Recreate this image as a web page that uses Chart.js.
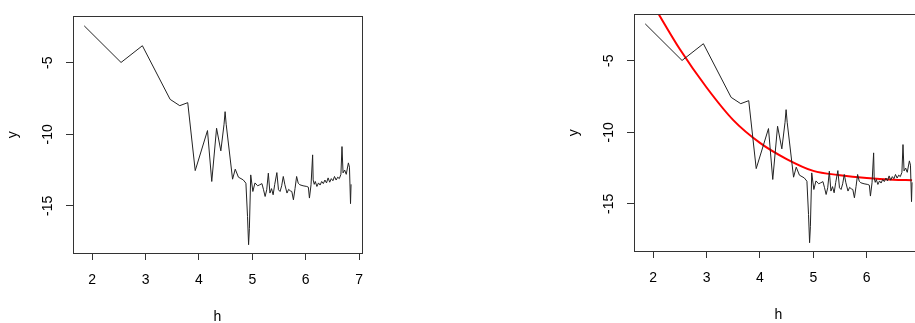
<!DOCTYPE html>
<html>
<head>
<meta charset="utf-8">
<script src="https://cdn.jsdelivr.net/npm/chart.js@4"></script>
<style>
  html, body { margin: 0; padding: 0; background: #fff; overflow: hidden; }
  body { width: 915px; height: 323px; position: relative; }
  .panel { position: absolute; width: 380px; height: 323px; }
  #leftPanel { left: 0; top: 0; }
  #rightPanel { left: 561px; top: -2px; }
</style>
</head>
<body>
<div class="panel" id="leftPanel"><canvas id="leftChart"></canvas></div>
<div class="panel" id="rightPanel"><canvas id="rightChart"></canvas></div>
<script>
// observed series (h, y)
const hValues = [1.85, 2.54, 2.94, 3.46, 3.64, 3.79, 3.93, 4.16, 4.24, 4.33, 4.41, 4.47, 4.49, 4.51,
  4.63, 4.68, 4.74, 4.83, 4.88, 4.91, 4.93, 4.945, 4.97, 5.01, 5.05, 5.10, 5.14, 5.18, 5.21, 5.24,
  5.27, 5.30, 5.33, 5.36, 5.39, 5.42, 5.46, 5.49, 5.52, 5.55, 5.58, 5.61, 5.65, 5.68, 5.71, 5.74,
  5.77, 5.80, 5.83, 5.86, 5.89, 5.95, 6.02, 6.05, 6.07, 6.10, 6.13, 6.14, 6.16, 6.18, 6.21, 6.24,
  6.27, 6.30, 6.33, 6.36, 6.39, 6.42, 6.45, 6.48, 6.51, 6.54, 6.57, 6.60, 6.63, 6.66, 6.68, 6.70,
  6.73, 6.76, 6.80, 6.82, 6.84, 6.85];
const yValues = [-2.42, -4.98, -3.81, -7.56, -8.0, -7.79, -12.54, -9.74, -13.3, -9.58, -11.16, -9.3, -8.42, -9.3,
  -13.14, -12.44, -13.0, -13.19, -13.42, -15.75, -17.72, -16.6, -12.84, -14.0, -13.4, -13.6, -13.53, -13.45, -13.88, -14.35,
  -13.88, -12.72, -14.11, -13.8, -14.23, -13.5, -12.68, -13.88, -14.0, -13.6, -12.95, -13.53, -14.11, -13.85, -13.95, -14.0,
  -14.58, -13.8, -12.95, -13.42, -13.53, -13.6, -13.65, -13.7, -14.46, -13.53, -11.44, -13.19, -13.5, -13.3, -13.65, -13.4,
  -13.55, -13.3, -13.45, -13.2, -13.4, -13.05, -13.35, -13.1, -13.25, -12.95, -13.2, -13.0, -13.1, -12.8, -10.86, -12.7,
  -12.5, -12.8, -12.0, -12.3, -14.85, -13.5];

// fitted curve (right panel)
const fitH = [2.0, 2.5, 3.0, 3.5, 4.0, 4.5, 5.0, 5.5, 6.0, 6.5, 6.85];
const fitY = [-1.1, -4.2, -6.87, -9.15, -10.74, -11.87, -12.7, -13.0, -13.2, -13.32, -13.35];

const xTicks = [2, 3, 4, 5, 6, 7];
const yTicks = [-5, -10, -15];

const font = { family: '"Liberation Sans", Arial, sans-serif', size: 14 };

function toPoints(xs, ys) {
    return xs.map((x, i) => ({ x: x, y: ys[i] }));
}

// draws the R style box round the plot region
const boxPlugin = {
    id: 'box',
    afterDraw(chart) {
        const a = chart.chartArea;
        const ctx = chart.ctx;
        ctx.save();
        ctx.strokeStyle = '#333';
        ctx.lineWidth = 1;
        ctx.strokeRect(Math.round(a.left) + 0.5, Math.round(a.top) + 0.5,
            Math.round(a.right - a.left), Math.round(a.bottom - a.top));
        ctx.restore();
    }
};

function makeChart(id, withFit) {
    const datasets = [{
        data: toPoints(hValues, yValues),
        borderColor: '#222',
        borderWidth: 1,
        pointRadius: 0,
        tension: 0
    }];
    if (withFit) {
        datasets.push({
            data: toPoints(fitH, fitY),
            borderColor: '#ff0000',
            borderWidth: 2,
            pointRadius: 0,
            cubicInterpolationMode: 'monotone'
        });
    }
    return new Chart(document.getElementById(id), {
        type: 'line',
        data: { datasets: datasets },
        plugins: [boxPlugin],
        options: {
            responsive: false,
            animation: false,
            events: [],
            layout: { padding: { top: 16, right: 18, left: 0, bottom: 0 } },
            plugins: { legend: { display: false }, tooltip: { enabled: false } },
            scales: {
                x: {
                    type: 'linear',
                    min: 1.64,
                    max: 7.055,
                    afterFit: s => { s.height = 70; },
                    afterBuildTicks: s => { s.ticks = xTicks.map(v => ({ value: v })); },
                    grid: { drawOnChartArea: false, drawTicks: true, tickLength: 7, color: '#333' },
                    border: { display: true, color: '#333' },
                    ticks: { color: '#000', font: font, padding: 12, maxRotation: 0 },
                    title: { display: true, text: 'h', color: '#000', font: font, padding: { top: 0, bottom: -3 } }
                },
                y: {
                    type: 'linear',
                    min: -18.3,
                    max: -1.76,
                    afterFit: s => { s.width = 73; },
                    afterBuildTicks: s => { s.ticks = yTicks.map(v => ({ value: v })); },
                    grid: { drawOnChartArea: false, drawTicks: true, tickLength: 7, color: '#333' },
                    border: { display: true, color: '#333' },
                    ticks: { color: '#000', font: font, padding: 8, minRotation: 90, maxRotation: 90, crossAlign: 'center' },
                    title: { display: true, text: 'y', color: '#000', font: font, padding: { top: 5, bottom: 0 } }
                }
            }
        }
    });
}

document.getElementById('leftChart').width = 380;
document.getElementById('leftChart').height = 323;
document.getElementById('rightChart').width = 380;
document.getElementById('rightChart').height = 323;

const leftChart = makeChart('leftChart', false);
const rightChart = makeChart('rightChart', true);
</script>
</body>
</html>
